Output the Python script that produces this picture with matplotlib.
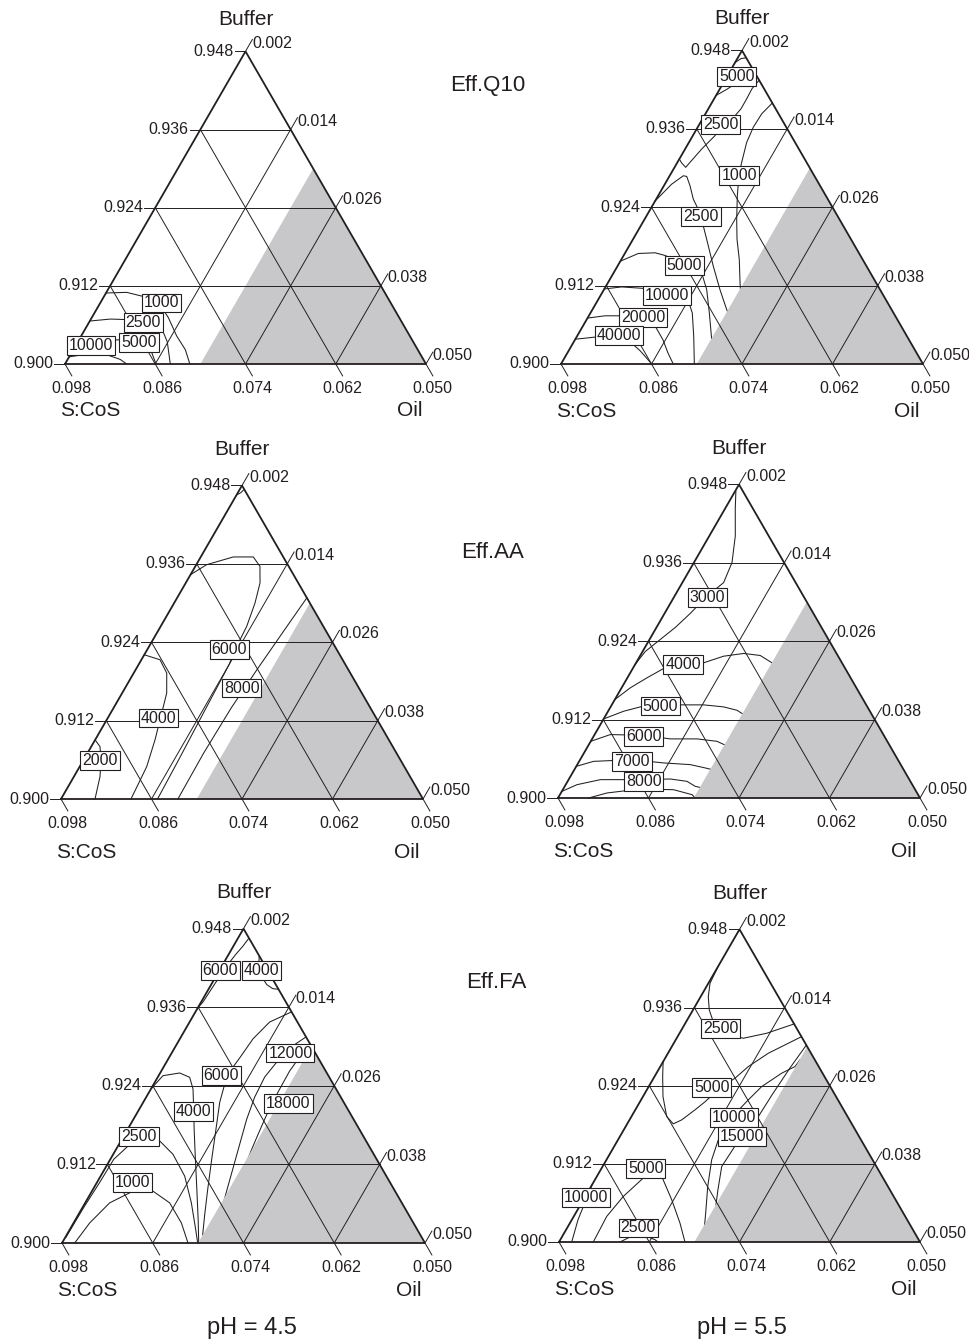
import numpy as np
import matplotlib
matplotlib.use('Agg')
import matplotlib.pyplot as plt
from matplotlib.patches import Polygon

plt.rcParams['font.family'] = ['Liberation Sans', 'DejaVu Sans']

INK = '#231f20'
SHADE = '#c8c8ca'
H3 = np.sqrt(3) / 2

# pseudo-component window (mass fractions)
BUF_LO, OIL_LO, SPAN = 0.900, 0.002, 0.048
BUF_TICKS = [0.900, 0.912, 0.924, 0.936, 0.948]
OIL_TICKS = [0.002, 0.014, 0.026, 0.038, 0.050]
SCOS_TICKS = [0.098, 0.086, 0.074, 0.062, 0.050]
OIL_LIMIT = 0.020   # shaded: oil fraction >= this

# contour lines: (level, [(oil, buffer), ...]);  None = unlabelled line
Q10_45 = [
    (1000, [(0.0020, 0.9109), (0.0047, 0.9110), (0.0075, 0.9103), (0.0101, 0.9091),
            (0.0122, 0.9071), (0.0147, 0.9043), (0.0169, 0.9022), (0.0186, 0.9000)]),
    (2500, [(0.0020, 0.9066), (0.0046, 0.9069), (0.0073, 0.9068), (0.0101, 0.9065),
            (0.0121, 0.9055), (0.0139, 0.9034), (0.0160, 0.9000)]),
    (5000, [(0.0020, 0.9039), (0.0048, 0.9037), (0.0081, 0.9037), (0.0111, 0.9031),
            (0.0127, 0.9017), (0.0141, 0.9000)]),
    (10000, [(0.0020, 0.9011), (0.0041, 0.9015), (0.0069, 0.9014), (0.0090, 0.9007),
             (0.0102, 0.9000)]),
]
Q10_45_LABELS = [(1000, 0.0100, 0.9096), (2500, 0.0091, 0.9066),
                 (5000, 0.0101, 0.9035), (10000, 0.0039, 0.9031)]

Q10_55 = [
    (None, [(0.0020, 0.94615), (0.0025, 0.94677), (0.0031, 0.94688)]),
    (5000, [(0.0020, 0.94112), (0.00295, 0.94205), (0.00378, 0.94303), (0.00473, 0.9438),
            (0.00576, 0.9442)]),
    (2500, [(0.00654, 0.94343), (0.00625, 0.94215), (0.00632, 0.94062), (0.00633, 0.93908),
            (0.00607, 0.9380), (0.00505, 0.93738), (0.00494, 0.93497), (0.0042, 0.93292),
            (0.00367, 0.93088), (0.00348, 0.93011), (0.00262, 0.93077), (0.0020, 0.93138)]),
    (1000, [(0.01004, 0.93995), (0.00946, 0.93831), (0.00937, 0.93626), (0.00965, 0.93395),
            (0.01052, 0.93088), (0.01107, 0.92908), (0.01251, 0.92574), (0.01422, 0.92215),
            (0.0158, 0.91908), (0.01764, 0.9160), (0.01953, 0.91242), (0.02095, 0.90985)]),
    (2500, [(0.0020, 0.92497), (0.00291, 0.92754), (0.00381, 0.92882), (0.00431, 0.92872),
            (0.00547, 0.92728), (0.00693, 0.92523), (0.00916, 0.92282), (0.01031, 0.92112),
            (0.01178, 0.91908), (0.01471, 0.91497), (0.01739, 0.91138), (0.01982, 0.90831),
            (0.02116, 0.90677)]),
    (5000, [(0.0020, 0.91574), (0.00379, 0.91692), (0.00595, 0.91703), (0.00748, 0.91662),
            (0.01068, 0.91534), (0.01368, 0.91395), (0.01563, 0.91138), (0.01777, 0.9078),
            (0.02014, 0.90369), (0.02146, 0.90138)]),
    (10000, [(0.0020, 0.91149), (0.00415, 0.9118), (0.00712, 0.91158), (0.01072, 0.91066),
             (0.01392, 0.90985), (0.01551, 0.9078), (0.0175, 0.9042), (0.01968, 0.9000)]),
    (20000, [(0.0020, 0.90703), (0.00414, 0.90738), (0.00604, 0.90738), (0.0092, 0.90734),
             (0.01154, 0.90585), (0.01368, 0.90369), (0.01537, 0.90165), (0.01689, 0.9000)]),
    (40000, [(0.0020, 0.9038), (0.0032, 0.90395), (0.00436, 0.90411), (0.00701, 0.90431),
             (0.00978, 0.90318), (0.01145, 0.90205), (0.01293, 0.90088), (0.01403, 0.9000)]),
]
Q10_55_LABELS = [(5000, 0.00314, 0.94431), (2500, 0.0047, 0.9369), (1000, 0.01107, 0.92908),
                 (2500, 0.00916, 0.92282), (5000, 0.01068, 0.91534), (10000, 0.01072, 0.91066),
                 (20000, 0.0092, 0.90734), (40000, 0.00742, 0.90462)]

AA_45 = [
    (None, [(0.00207, 0.94662), (0.0024, 0.94690), (0.00257, 0.94739)]),
    (2000, [(0.0020, 0.90905), (0.00316, 0.90802), (0.00426, 0.90609), (0.00546, 0.90342),
            (0.00651, 0.9000)]),
    (4000, [(0.0020, 0.92208), (0.00447, 0.92132), (0.00638, 0.91928), (0.00791, 0.91621),
            (0.00878, 0.91314), (0.00994, 0.90905), (0.01089, 0.90495), (0.01128, 0.9000)]),
    (6000, [(0.0020, 0.93435), (0.00338, 0.93588), (0.00631, 0.93706), (0.00897, 0.93706),
            (0.01057, 0.93562), (0.01185, 0.93308), (0.01272, 0.93001), (0.01341, 0.92642),
            (0.01363, 0.92316), (0.0140, 0.92055), (0.0143, 0.91314), (0.0146, 0.90598),
            (0.0148, 0.9000)]),
    (8000, [(0.0192, 0.9308), (0.0187, 0.9260), (0.0181, 0.9200), (0.0176, 0.9140),
            (0.0174, 0.9070), (0.0175, 0.9000)]),
]
AA_45_LABELS = [(6000, 0.01276, 0.92311), (8000, 0.01735, 0.91722),
                (4000, 0.00859, 0.91262), (2000, 0.00412, 0.90613)]

AA_55 = [
    (3000, [(0.0021, 0.94697), (0.0034, 0.94421), (0.00545, 0.94012), (0.00705, 0.93604),
            (0.00747, 0.93297), (0.0063, 0.93092), (0.00541, 0.92826), (0.0045, 0.92612),
            (0.00343, 0.92428), (0.00236, 0.92243), (0.0020, 0.92044)]),
    (4000, [(0.0020, 0.91507), (0.00315, 0.91687), (0.0046, 0.9184), (0.00609, 0.91983),
            (0.00822, 0.9207), (0.01096, 0.9207), (0.0131, 0.92171), (0.01555, 0.92213),
            (0.01791, 0.92182), (0.02002, 0.9207), (0.02153, 0.91937)]),
    (5000, [(0.0020, 0.91211), (0.00406, 0.91328), (0.00594, 0.91395), (0.00841, 0.91431),
            (0.01152, 0.91426), (0.01418, 0.91426), (0.01698, 0.91395), (0.01902, 0.91343),
            (0.02053, 0.91262)]),
    (6000, [(0.0020, 0.90868), (0.00408, 0.90971), (0.00855, 0.9096), (0.01237, 0.90905),
            (0.01591, 0.90905), (0.01874, 0.90868), (0.02031, 0.90802)]),
    (7000, [(0.0020, 0.90485), (0.00391, 0.90561), (0.00888, 0.90587), (0.01332, 0.90537),
            (0.01699, 0.90511), (0.01923, 0.9046), (0.02029, 0.90434)]),
    (8000, [(0.0020, 0.90101), (0.0035, 0.90204), (0.00621, 0.90281), (0.01195, 0.90281),
            (0.01543, 0.90291), (0.01783, 0.90255), (0.01932, 0.90178), (0.02021, 0.90158)]),
    (None, [(0.00606, 0.9000), (0.00811, 0.90077), (0.01222, 0.90138), (0.01669, 0.90127),
            (0.01952, 0.90051), (0.0202, 0.9000)]),
]
AA_55_LABELS = [(3000, 0.00638, 0.93092), (4000, 0.00822, 0.9207), (5000, 0.00841, 0.91431),
                (6000, 0.00855, 0.9096), (7000, 0.00888, 0.90587), (8000, 0.01195, 0.90281)]

FA_45 = [
    (6000, [(0.00344, 0.94651), (0.00325, 0.94528), (0.00294, 0.94406), (0.0027, 0.94268),
            (0.00254, 0.94114), (0.00237, 0.93884), (0.00225, 0.93685), (0.0020, 0.93578)]),
    (4000, [(0.0062, 0.94375), (0.0069, 0.94222), (0.00806, 0.94068), (0.00934, 0.93946),
            (0.01044, 0.93884), (0.01122, 0.93874)]),
    (1000, [(0.00368, 0.9000), (0.00413, 0.90307), (0.00524, 0.90613), (0.00743, 0.90791),
            (0.01008, 0.90791), (0.01317, 0.90613), (0.01625, 0.90307), (0.01866, 0.9000)]),
    (2500, [(0.00208, 0.90081), (0.00216, 0.90541), (0.00236, 0.90925), (0.00245, 0.91277),
            (0.00325, 0.91461), (0.00395, 0.91645), (0.00713, 0.91558), (0.00991, 0.91354),
            (0.01312, 0.91021), (0.01604, 0.90613), (0.01866, 0.90204), (0.01994, 0.9000)]),
    (4000, [(0.0020, 0.92351), (0.00258, 0.92555), (0.00458, 0.92596), (0.00623, 0.9253),
            (0.00757, 0.92351), (0.00925, 0.92033), (0.01079, 0.91737), (0.01284, 0.91354),
            (0.01547, 0.90868), (0.01822, 0.90357), (0.02008, 0.9000)]),
    (6000, [(0.01468, 0.93527), (0.01259, 0.93374), (0.01167, 0.93118), (0.01141, 0.92862),
            (0.01115, 0.92658), (0.01138, 0.92428), (0.01212, 0.92147), (0.01348, 0.91788),
            (0.01541, 0.91277), (0.01718, 0.90817), (0.0187, 0.90434), (0.01997, 0.90127)]),
    (12000, [(0.01852, 0.93144), (0.0177, 0.93041), (0.01759, 0.92923), (0.01662, 0.9278),
             (0.01613, 0.92535), (0.01634, 0.92228), (0.01697, 0.91891), (0.01796, 0.91507),
             (0.01895, 0.91124), (0.01994, 0.90741), (0.02056, 0.90511)]),
    (18000, [(0.01955, 0.93041), (0.01922, 0.92842), (0.01897, 0.92627), (0.01903, 0.92351),
             (0.01912, 0.92121), (0.01935, 0.91891), (0.01965, 0.91645), (0.01993, 0.91431),
             (0.0203, 0.9120)]),
]
FA_45_LABELS = [(6000, 0.00204, 0.9418), (4000, 0.0075, 0.9418), (12000, 0.01759, 0.92923),
                (6000, 0.01017, 0.92581), (4000, 0.00925, 0.92033), (18000, 0.02116, 0.92156),
                (2500, 0.00395, 0.91645), (1000, 0.00656, 0.90951)]

FA_55 = [
    (2500, [(0.0020, 0.94226), (0.00222, 0.93972), (0.00302, 0.93766), (0.00417, 0.93562),
            (0.00539, 0.93409), (0.00699, 0.93302), (0.00884, 0.93179), (0.01086, 0.93128),
            (0.01359, 0.93205), (0.01653, 0.93348)]),
    (5000, [(0.01849, 0.93153), (0.01534, 0.92898), (0.0137, 0.92693), (0.01283, 0.92515),
            (0.01158, 0.92366), (0.01065, 0.92152), (0.00994, 0.92029), (0.00894, 0.91875),
            (0.00813, 0.91814), (0.00669, 0.91926), (0.00466, 0.92233), (0.00309, 0.92539),
            (0.0020, 0.92769)]),
    (10000, [(0.02006, 0.92796), (0.01991, 0.92693), (0.01865, 0.92592), (0.01702, 0.92386),
             (0.01626, 0.92182), (0.01551, 0.91952), (0.01518, 0.91645), (0.01599, 0.91262),
             (0.01751, 0.90853), (0.01928, 0.90445), (0.02049, 0.90158)]),
    (15000, [(0.01978, 0.93026), (0.01935, 0.92673), (0.01903, 0.92259), (0.01884, 0.91845),
             (0.01814, 0.91645), (0.01784, 0.91159), (0.01913, 0.9080), (0.02002, 0.9057)]),
    (5000, [(0.00656, 0.9000), (0.00638, 0.90393), (0.00705, 0.90699), (0.0084, 0.91006),
            (0.00865, 0.9117), (0.01063, 0.91006), (0.01374, 0.90649), (0.01663, 0.90291),
            (0.01875, 0.9000)]),
    (10000, [(0.00369, 0.9000), (0.00282, 0.90342), (0.00235, 0.90649), (0.0020, 0.90879)]),
    (2500, [(0.01011, 0.9000), (0.01122, 0.90089), (0.01295, 0.90097), (0.01459, 0.90035),
            (0.01516, 0.9000)]),
]
FA_55_LABELS = [(2500, 0.00697, 0.93306), (5000, 0.01032, 0.92397), (10000, 0.01558, 0.91937),
                (15000, 0.01814, 0.91645), (5000, 0.00778, 0.9115), (10000, 0.0020, 0.9071),
                (2500, 0.01135, 0.90239)]

RESPONSES = ['Eff.Q10', 'Eff.AA', 'Eff.FA']
PH_VALUES = ['pH = 4.5', 'pH = 5.5']

FIG_W, FIG_H = 970, 1342


def tern(oil, buf):
    """(oil, buffer) fractions -> unit-triangle x, y (S:CoS is the remainder)."""
    u = (np.asarray(oil, float) - OIL_LO) / SPAN
    v = (np.asarray(buf, float) - BUF_LO) / SPAN
    return u + v / 2, v * H3


def make_axes(fig, x0, y0, side):
    # x0, y0: pixel position of the S:CoS corner, side: edge length in pixels
    xl, xr, yb, yt = -0.4, 1.3, -0.25, 1.05
    left = (x0 + xl * side) / FIG_W
    bottom = (FIG_H - y0 + yb * side) / FIG_H
    ax = fig.add_axes([left, bottom, (xr - xl) * side / FIG_W, (yt - yb) * side / FIG_H])
    ax.set_xlim(xl, xr)
    ax.set_ylim(yb, yt)
    ax.axis('off')
    return ax


def draw_panel(ax, lines, labels, title_y, corner_y):
    # response contours
    for level, pts in lines:
        oil, buf = zip(*pts)
        x, y = tern(oil, buf)
        ax.plot(x, y, color=INK, lw=0.75, zorder=1)

    # shaded region (oil-rich corner)
    gx, gy = tern([OIL_LIMIT, 0.050, OIL_LIMIT], [0.900, 0.900, 1 - 0.050 - OIL_LIMIT])
    ax.add_patch(Polygon(np.column_stack([gx, gy]), closed=True, fc=SHADE, ec='none', zorder=2))

    # grid lines
    for b in BUF_TICKS[1:-1]:
        x, y = tern([OIL_LO, 0.950 - b], [b, b])
        ax.plot(x, y, color=INK, lw=0.7, zorder=3)
    for o in OIL_TICKS[1:-1]:
        x, y = tern([o, o], [0.900, 0.950 - o])
        ax.plot(x, y, color=INK, lw=0.7, zorder=3)
    for s in SCOS_TICKS[1:-1]:
        x, y = tern([0.100 - s, OIL_LO], [0.900, 0.998 - s])
        ax.plot(x, y, color=INK, lw=0.7, zorder=3)

    # outline
    ox, oy = tern([0.002, 0.050, 0.002, 0.002], [0.900, 0.900, 0.948, 0.900])
    ax.plot(ox, oy, color=INK, lw=1.3, zorder=4, solid_joinstyle='miter')

    # ticks + tick labels
    tl = 0.038
    for b in BUF_TICKS:
        x, y = tern(OIL_LO, b)
        ax.plot([x, x - 0.03], [y, y], color=INK, lw=0.7, zorder=4, clip_on=False)
        ax.text(x - 0.032, y, f'{b:.3f}', ha='right', va='center', fontsize=11.5,
                color=INK, clip_on=False)
    for o in OIL_TICKS:
        x, y = tern(o, 0.950 - o)
        ex, ey = x + 0.5 * tl, y + H3 * tl
        ax.plot([x, ex], [y, ey], color=INK, lw=0.7, zorder=4, clip_on=False)
        ax.text(ex, ey - 0.010, f'{o:.3f}', ha='left', va='center', fontsize=11.5,
                color=INK, clip_on=False)
    for s in SCOS_TICKS:
        x, y = tern(0.100 - s, 0.900)
        ex, ey = x + 0.5 * tl, y - H3 * tl
        ax.plot([x, ex], [y, ey], color=INK, lw=0.7, zorder=4, clip_on=False)
        ax.text(ex, ey - 0.014, f'{s:.3f}', ha='center', va='top', fontsize=11.5,
                color=INK, clip_on=False)

    # component names
    ax.text(0.5, title_y, 'Buffer', ha='center', va='center', fontsize=15, color=INK)
    ax.text(0.07, corner_y, 'S:CoS', ha='center', va='center', fontsize=15, color=INK)
    ax.text(0.955, corner_y, 'Oil', ha='center', va='center', fontsize=15, color=INK)

    # contour level boxes
    for level, oil, buf in labels:
        x, y = tern(oil, buf)
        ax.text(x, y, str(level), ha='center', va='center_baseline', fontsize=11.5, color=INK,
                zorder=6, bbox=dict(boxstyle='square,pad=0.12', fc='white', ec=INK, lw=0.8))


fig = plt.figure(figsize=(FIG_W / 100, FIG_H / 100), dpi=100)

panels = [
    (Q10_45, Q10_45_LABELS, (65, 364, 361), 0.955, -0.130),
    (Q10_55, Q10_55_LABELS, (561, 364, 362), 0.955, -0.130),
    (AA_45, AA_45_LABELS, (61, 799, 362), 0.966, -0.148),
    (AA_55, AA_55_LABELS, (558, 798, 362), 0.966, -0.148),
    (FA_45, FA_45_LABELS, (62, 1243, 363), 0.966, -0.132),
    (FA_55, FA_55_LABELS, (559, 1242, 361), 0.966, -0.132),
]
for lines, labels, (x0, y0, side), ty, cy in panels:
    ax = make_axes(fig, x0, y0, side)
    draw_panel(ax, lines, labels, ty, cy)

for name, ypx, xpx in zip(RESPONSES, [85, 553, 982], [488, 493, 496]):
    fig.text(xpx / FIG_W, 1 - ypx / FIG_H, name, ha='center', va='center',
             fontsize=16, color=INK)
for ph, xpx in zip(PH_VALUES, [252, 742]):
    fig.text(xpx / FIG_W, 1 - 1328 / FIG_H, ph, ha='center', va='center',
             fontsize=17, color=INK)

fig.savefig('out.png', dpi=100, facecolor='white')
